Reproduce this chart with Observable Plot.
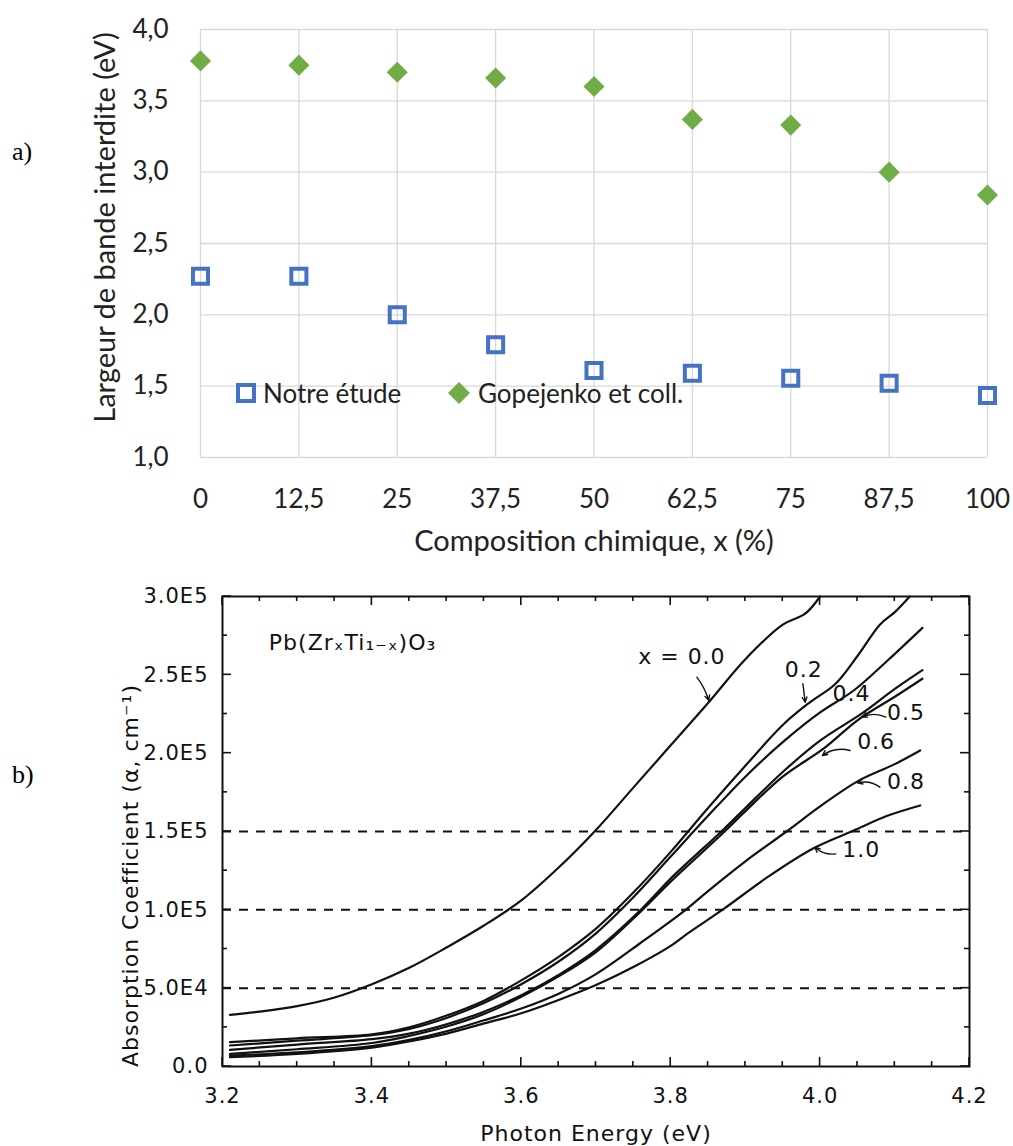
<!DOCTYPE html>
<html><head><meta charset="utf-8">
<script src="https://cdn.jsdelivr.net/npm/d3@7"></script>
<script src="https://cdn.jsdelivr.net/npm/@observablehq/plot@0.6"></script>
<style>
body{margin:0;background:#fff;}
#root{position:relative;width:1013px;height:1146px;overflow:hidden;background:#fff}
.panel{position:absolute;left:0}
.tag{position:absolute;font-family:"Liberation Serif","Times New Roman",serif;font-size:26px;color:#000;line-height:26px}
.lg{position:absolute;font-family:Lato,sans-serif;font-size:26px;line-height:26px;color:#222;white-space:nowrap}
</style></head>
<body><div id="root">
<div class="tag" style="left:12px;top:139px">a)</div>
<div class="tag" style="left:12px;top:762px">b)</div>
<div id="chartA" class="panel" style="top:0"></div>
<div id="chartB" class="panel" style="top:580px"></div>
<svg class="lg" style="left:236px;top:383px" width="20" height="20"><rect x="2" y="2" width="16" height="16" fill="none" stroke="#4472C4" stroke-width="4"/></svg>
<div class="lg" style="left:263px;top:380px">Notre étude</div>
<svg class="lg" style="left:448px;top:382px" width="22" height="22"><path d="M11,0 L22,11 L11,22 L0,11Z" fill="#70AD47"/></svg>
<div class="lg" style="left:478px;top:380px">Gopejenko et coll.</div>
</div>
<script>
// ---------- Panel a data ----------
const compositions = [0, 12.5, 25, 37.5, 50, 62.5, 75, 87.5, 100];
const notreEtude   = [2.27, 2.27, 2.00, 1.79, 1.61, 1.59, 1.555, 1.52, 1.435];
const gopejenko    = [3.78, 3.75, 3.70, 3.66, 3.60, 3.37, 3.33, 3.00, 2.84];
const yTicksA      = [1, 1.5, 2, 2.5, 3, 3.5, 4];
const xTitleA = "Composition chimique, x (%)";
const yTitleA = "Largeur de bande interdite (eV)";

// ---------- Panel b data ----------
const E_00 = [3.21,3.25,3.3,3.35,3.4,3.45,3.5,3.55,3.6,3.65,3.7,3.75,3.8,3.85,3.9,3.95,3.98,4.0];
const A_00 = [33000,35000,38500,44000,52500,63000,76000,90000,106000,127000,151000,178000,205000,232000,260000,282000,289000,300000];
const E_02 = [3.21,3.3,3.4,3.45,3.5,3.55,3.6,3.65,3.7,3.75,3.8,3.85,3.9,3.95,3.985,4.02,4.05,4.08,4.1,4.12];
const A_02 = [15500,18000,20500,25000,32500,42000,55000,70000,88000,111000,137000,165000,192000,218000,232000,244000,262000,282000,290000,300000];
const E_04 = [3.21,3.3,3.4,3.45,3.5,3.55,3.6,3.65,3.7,3.75,3.8,3.85,3.9,3.95,4.0,4.045,4.09,4.137];
const A_04 = [13400,16500,20000,24000,31000,40500,52500,67000,85000,108000,134000,160000,185000,207000,226000,240000,259000,280000];
const E_05 = [3.21,3.3,3.4,3.45,3.5,3.55,3.6,3.65,3.7,3.76,3.8,3.87,3.9,3.95,4.0,4.058,4.1,4.137];
const A_05 = [10600,14000,17500,21000,27000,35000,45500,58500,74500,100000,120000,151000,165000,188000,208000,226000,241000,253000];
const E_06 = [3.21,3.3,3.4,3.45,3.5,3.55,3.6,3.65,3.7,3.76,3.8,3.87,3.9,3.95,4.005,4.05,4.1,4.137];
const A_06 = [8100,11000,15000,19500,25500,33500,44500,57500,73000,99000,118000,149000,163000,185000,203000,221000,236000,247500];
const E_08 = [3.21,3.3,3.4,3.45,3.5,3.55,3.6,3.65,3.7,3.76,3.82,3.85,3.9,3.955,4.0,4.05,4.1,4.134];
const A_08 = [7000,9000,13000,17000,22500,29500,37000,46500,59000,79000,100000,112000,131000,150000,166000,182000,193000,201700];
const E_10 = [3.21,3.3,3.4,3.45,3.5,3.55,3.6,3.65,3.7,3.75,3.8,3.822,3.871,3.93,3.99,4.045,4.09,4.134];
const A_10 = [6000,8000,12000,16000,21000,27500,34000,42500,52000,63500,77000,84700,100600,121000,139000,150600,160000,166600];
const seriesNames = ["0.0","0.2","0.4","0.5","0.6","0.8","1.0"];
const seriesE = [E_00,E_02,E_04,E_05,E_06,E_08,E_10];
const seriesA = [A_00,A_02,A_04,A_05,A_06,A_08,A_10];
const xTicksB = [3.2,3.4,3.6,3.8,4.0,4.2];
const yTicksB = [0,50000,100000,150000,200000,250000,300000];
const yTickLabelsB = ["0.0","5.0E4","1.0E5","1.5E5","2.0E5","2.5E5","3.0E5"];
const dashedLevels = [50000,100000,150000];
const annoText = ["x = 0.0","0.2","0.4","0.5","0.6","0.8","1.0"];
const annoE    = [3.815,3.978,4.042,4.115,4.075,4.115,4.055];
const annoA    = [261300,253200,237900,225500,207000,181500,138300];
const arrowE1 = [3.835,3.977,4.088,4.040,4.080,4.021];
const arrowA1 = [248500,244300,223000,201700,178300,135700];
const arrowE2 = [3.851,3.980,4.056,4.003,4.050,3.993];
const arrowA2 = [233600,232500,223000,198500,181000,140000];
const arrowBend = [10,0,-25,-25,-25,25];
const formulaLabel = "Pb(ZrₓTi₁₋ₓ)O₃";
const formulaE = 3.262, formulaA = 270500;
const xTitleB = "Photon Energy (eV)";
const yTitleB = "Absorption Coefficient (α, cm⁻¹)";

// ---------- Panel a ----------
const comma = d => d3.format(d % 1 ? ".1f" : "d")(d).replace(".", ",");
const rowsN = compositions.map((x, i) => ({x, v: notreEtude[i]}));
const rowsG = compositions.map((x, i) => ({x, v: gopejenko[i]}));
const plotA = Plot.plot({
  width: 1013, height: 570,
  marginLeft: 200, marginRight: 26, marginTop: 29, marginBottom: 113,
  style: {fontFamily: "Lato, sans-serif", fontSize: "26px", color: "#222", background: "transparent"},
  x: {domain: [0, 100], ticks: compositions, tickFormat: comma, tickSize: 0, tickPadding: 32, label: null},
  y: {domain: [1, 4], ticks: yTicksA, tickFormat: d => d3.format(".1f")(d).replace(".", ","), tickSize: 0, tickPadding: 32, label: null},
  marks: [
    Plot.gridX(compositions, {stroke: "#d9d9d9", strokeOpacity: 1, strokeWidth: 1.3}),
    Plot.gridY(yTicksA, {stroke: "#d9d9d9", strokeOpacity: 1, strokeWidth: 1.3}),
    Plot.dot(rowsG, {x: "x", y: "v", symbol: "diamond2", r: 9.5, fill: "#70AD47", stroke: null}),
    Plot.dot(rowsN, {x: "x", y: "v", symbol: "square", r: 8.5, fill: "none", stroke: "#4472C4", strokeWidth: 4}),
    Plot.text([xTitleA], {text: d => d, frameAnchor: "bottom", dy: 93, fontSize: 29}),
    Plot.text([yTitleA], {text: d => d, frameAnchor: "left", textAnchor: "middle", rotate: -90, dx: -95, dy: -16, fontSize: 29})
  ]
});
document.getElementById("chartA").appendChild(plotA);

// ---------- Panel b ----------
const rowsB = seriesNames.flatMap((s, k) => seriesE[k].map((E, i) => ({series: s, E, a: seriesA[k][i]})));
const annoRows = annoText.map((t, i) => ({t, E: annoE[i], a: annoA[i]}));
const arrowRows = arrowE1.map((e, i) => ({x1: e, y1: arrowA1[i], x2: arrowE2[i], y2: arrowA2[i], bend: arrowBend[i]}));
const plotB = Plot.plot({
  width: 1013, height: 566,
  marginLeft: 222, marginRight: 44, marginTop: 16, marginBottom: 80,
  style: {fontFamily: "'DejaVu Sans', sans-serif", fontSize: "21px", color: "#111", background: "transparent", letterSpacing: "1px"},
  x: {domain: [3.2, 4.2], ticks: xTicksB, tickFormat: d3.format(".1f"), tickSize: 0, tickPadding: 22, label: null},
  y: {domain: [0, 300000], ticks: yTicksB, tickFormat: (d, i) => yTickLabelsB[i], tickSize: 0, tickPadding: 14, label: null},
  marks: [
    Plot.ruleY(dashedLevels, {stroke: "#111", strokeWidth: 2, strokeDasharray: "9,8"}),
    Plot.line(rowsB, {x: "E", y: "a", z: "series", stroke: "#111", strokeWidth: 2.2, curve: "catmull-rom"}),
    ...arrowRows.map(r => Plot.arrow([r], {x1: "x1", y1: "y1", x2: "x2", y2: "y2", bend: r.bend, stroke: "#111", strokeWidth: 1.4, headLength: 6, headAngle: 50})),
    Plot.text(annoRows, {x: "E", y: "a", text: "t", fontSize: 22, fill: "#111"}),
    Plot.text([formulaLabel], {x: () => formulaE, y: () => formulaA, text: d => d, textAnchor: "start", fontSize: 22, fill: "#111"}),
    Plot.frame({stroke: "#111", strokeWidth: 2}),
    Plot.text([xTitleB], {text: d => d, frameAnchor: "bottom", dy: 74, fontSize: 22}),
    Plot.text([yTitleB], {text: d => d, frameAnchor: "left", textAnchor: "middle", rotate: -90, dx: -92, dy: 44, fontSize: 22})
  ]
});
document.getElementById("chartB").appendChild(plotB);

// inward ticks on all four sides, placed through the plot's own scales
(function () {
  const sx = plotB.scale("x"), sy = plotB.scale("y");
  const g = d3.select(plotB).append("g").attr("stroke", "#111").attr("stroke-width", 1.6);
  const x0 = sx.apply(3.2), x1 = sx.apply(4.2), y0 = sy.apply(0), y1 = sy.apply(300000);
  d3.range(0, 21).map(i => 3.2 + i * 0.05).forEach((v, i) => {
    const len = i % 4 === 0 ? 9 : 5, px = sx.apply(v);
    g.append("line").attr("x1", px).attr("x2", px).attr("y1", y0).attr("y2", y0 - len);
    g.append("line").attr("x1", px).attr("x2", px).attr("y1", y1).attr("y2", y1 + len);
  });
  d3.range(0, 13).map(i => i * 25000).forEach((v, i) => {
    const len = i % 2 === 0 ? 9 : 5, py = sy.apply(v);
    g.append("line").attr("x1", x0).attr("x2", x0 + len).attr("y1", py).attr("y2", py);
    g.append("line").attr("x1", x1).attr("x2", x1 - len).attr("y1", py).attr("y2", py);
  });
})();
</script>
</body></html>
